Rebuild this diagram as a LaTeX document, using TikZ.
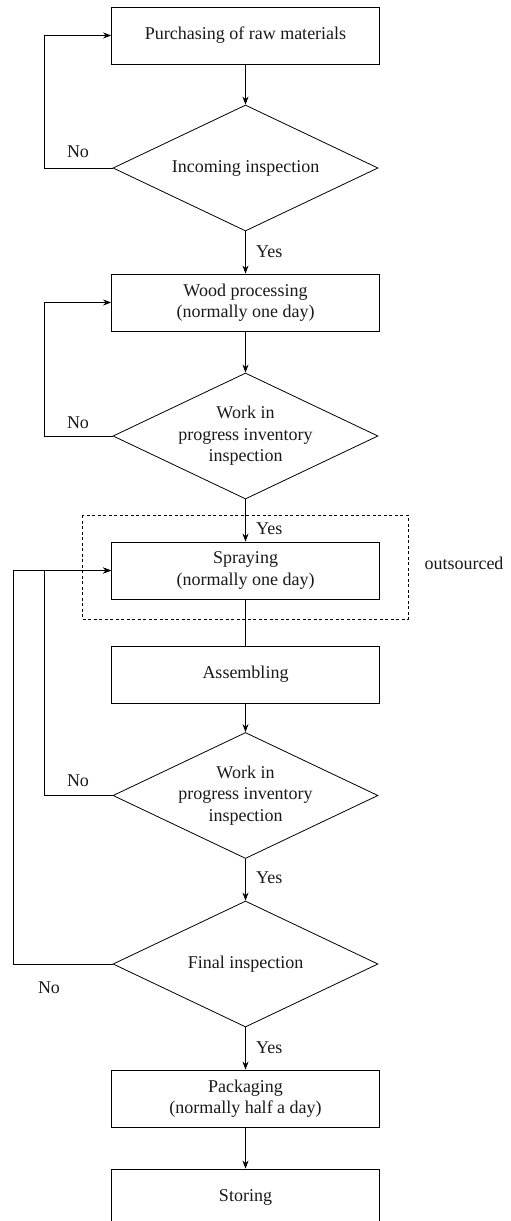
\documentclass[tikz,border=0pt]{standalone}
\usepackage{fontspec}
\setmainfont{Liberation Serif}
\usetikzlibrary{shapes.geometric,arrows.meta}

\tikzset{
  every node/.style={font=\fontsize{18}{21.5}\selectfont, text=black!90},
  stepbox/.style={draw, rectangle, line width=0.8pt, minimum width=268pt, minimum height=57pt, align=center, inner sep=0pt},
  decision/.style={draw, diamond, aspect=2.1, line width=0.8pt, minimum width=265pt, minimum height=126pt, align=center, inner sep=0pt},
  flow/.style={line width=0.8pt, -{Stealth[length=8pt,width=6pt]}},
  plain/.style={line width=0.8pt},
  lbl/.style={inner sep=0pt},
}

\begin{document}
\begin{tikzpicture}[x=1pt,y=-1pt]
\useasboundingbox (0,0) rectangle (511,1221);

% main steps
\node[stepbox]  (buy)    at (245.5,35.5)  {Purchasing of raw materials};
\node[decision] (incom)  at (245.5,168)   {Incoming inspection};
\node[stepbox]  (wood)   at (245.5,302.5) {Wood processing\\(normally one day)};
\node[decision] (wip1)   at (245.5,436)   {Work in\\progress inventory\\inspection};
\node[stepbox]  (spray)  at (245.5,570.5) {Spraying\\(normally one day)};
\node[stepbox]  (assem)  at (245.5,674.5) {Assembling};
\node[decision] (wip2)   at (245.5,795.5) {Work in\\progress inventory\\inspection};
\node[decision] (final)  at (245.5,964)   {Final inspection};
\node[stepbox]  (pack)   at (245.5,1098.5){Packaging\\(normally half a day)};
\node[stepbox]  (store)  at (245.5,1197.5){Storing};

% outsourced region
\draw[plain, dash pattern=on 3pt off 2.5pt] (82,515) rectangle (408,619);
\node[lbl] (outs) at (464,563) {outsourced};

% forward flow
\draw[flow] (buy.south) -- (incom.north);
\draw[flow] (incom.south) -- (wood.north);
\draw[flow] (wood.south) -- (wip1.north);
\draw[flow] (wip1.south) -- (spray.north);
\draw[plain] (spray.south) -- (assem.north);
\draw[flow] (assem.south) -- (wip2.north);
\draw[flow] (wip2.south) -- (final.north);
\draw[flow] (final.south) -- (pack.north);
\draw[flow] (pack.south) -- (store.north);

% rework loops
\draw[flow] (incom.west) -- (44,168) -- (44,35.5) -- (buy.west);
\draw[flow] (wip1.west) -- (44,436) -- (44,302.5) -- (wood.west);
\draw[flow] (wip2.west) -- (44,795.5) -- (44,570.5) -- (spray.west);
\draw[flow] (final.west) -- (13,964) -- (13,570.5) -- (spray.west);

% branch labels
\node[lbl] (no1) at (78,152) {No};
\node[lbl] (no2) at (78,423) {No};
\node[lbl] (no3) at (78,781) {No};
\node[lbl] (no4) at (49,988) {No};
\node[lbl, anchor=west] (yes1) at (256,252)  {Yes};
\node[lbl, anchor=west] (yes2) at (256,529)  {Yes};
\node[lbl, anchor=west] (yes3) at (256,878)  {Yes};
\node[lbl, anchor=west] (yes4) at (256,1048) {Yes};
\end{tikzpicture}
\end{document}
